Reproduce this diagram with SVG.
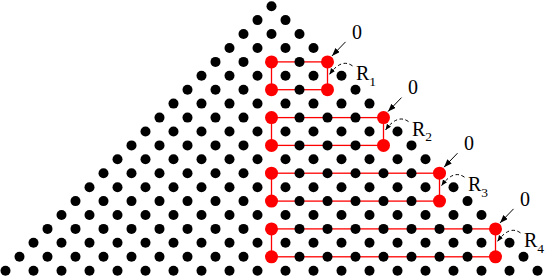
<svg xmlns="http://www.w3.org/2000/svg" width="545" height="279" viewBox="0 0 545 279">
<defs>
<style>
.rb{fill:none;stroke:#ff0000;stroke-width:1.3}
.bd circle{fill:#000}
.rd circle{fill:#ff0000}
.lbl{font-family:"Liberation Serif","Times New Roman",serif;font-size:20px;fill:#000}
.ar{fill:none;stroke:#000;stroke-width:1}
.da{fill:none;stroke:#000;stroke-width:1;stroke-dasharray:3.5 2.5}
</style>
<marker id="ah" markerUnits="userSpaceOnUse" markerWidth="9" markerHeight="7" refX="8" refY="3" orient="auto">
<path d="M0,0 L8,3 L0,6 z" fill="#000"/>
</marker>
<marker id="ahs" markerUnits="userSpaceOnUse" markerWidth="7" markerHeight="6" refX="6" refY="2.5" orient="auto">
<path d="M0,0 L6,2.5 L0,5 z" fill="#000"/>
</marker>
</defs>
<rect width="545" height="279" fill="#fff"/>
<g id="boxes">
<rect class="rb" x="271.5" y="61.9" width="56" height="27.8"/>
<rect class="rb" x="271.5" y="117.6" width="112" height="27.8"/>
<rect class="rb" x="271.5" y="173.2" width="168" height="27.9"/>
<rect class="rb" x="271.5" y="228.9" width="224" height="27.9"/>
</g>
<g id="dots" class="bd">
<circle cx="271.5" cy="6.2" r="5"/>
<circle cx="257.5" cy="20.1" r="5"/><circle cx="285.5" cy="20.1" r="5"/>
<circle cx="243.5" cy="34" r="5"/><circle cx="271.5" cy="34" r="5"/><circle cx="299.5" cy="34" r="5"/>
<circle cx="229.5" cy="48" r="5"/><circle cx="257.5" cy="48" r="5"/><circle cx="285.5" cy="48" r="5"/><circle cx="313.5" cy="48" r="5"/>
<circle cx="215.5" cy="61.9" r="5"/><circle cx="243.5" cy="61.9" r="5"/><circle cx="299.5" cy="61.9" r="5"/>
<circle cx="201.5" cy="75.8" r="5"/><circle cx="229.5" cy="75.8" r="5"/><circle cx="257.5" cy="75.8" r="5"/><circle cx="285.5" cy="75.8" r="5"/><circle cx="313.5" cy="75.8" r="5"/><circle cx="341.5" cy="75.8" r="5"/>
<circle cx="187.5" cy="89.7" r="5"/><circle cx="215.5" cy="89.7" r="5"/><circle cx="243.5" cy="89.7" r="5"/><circle cx="299.5" cy="89.7" r="5"/><circle cx="355.5" cy="89.7" r="5"/>
<circle cx="173.5" cy="103.6" r="5"/><circle cx="201.5" cy="103.6" r="5"/><circle cx="229.5" cy="103.6" r="5"/><circle cx="257.5" cy="103.6" r="5"/><circle cx="285.5" cy="103.6" r="5"/><circle cx="313.5" cy="103.6" r="5"/><circle cx="341.5" cy="103.6" r="5"/><circle cx="369.5" cy="103.6" r="5"/>
<circle cx="159.5" cy="117.6" r="5"/><circle cx="187.5" cy="117.6" r="5"/><circle cx="215.5" cy="117.6" r="5"/><circle cx="243.5" cy="117.6" r="5"/><circle cx="299.5" cy="117.6" r="5"/><circle cx="327.5" cy="117.6" r="5"/><circle cx="355.5" cy="117.6" r="5"/>
<circle cx="145.5" cy="131.5" r="5"/><circle cx="173.5" cy="131.5" r="5"/><circle cx="201.5" cy="131.5" r="5"/><circle cx="229.5" cy="131.5" r="5"/><circle cx="257.5" cy="131.5" r="5"/><circle cx="285.5" cy="131.5" r="5"/><circle cx="313.5" cy="131.5" r="5"/><circle cx="341.5" cy="131.5" r="5"/><circle cx="369.5" cy="131.5" r="5"/><circle cx="397.5" cy="131.5" r="5"/>
<circle cx="131.5" cy="145.4" r="5"/><circle cx="159.5" cy="145.4" r="5"/><circle cx="187.5" cy="145.4" r="5"/><circle cx="215.5" cy="145.4" r="5"/><circle cx="243.5" cy="145.4" r="5"/><circle cx="299.5" cy="145.4" r="5"/><circle cx="327.5" cy="145.4" r="5"/><circle cx="355.5" cy="145.4" r="5"/><circle cx="411.5" cy="145.4" r="5"/>
<circle cx="117.5" cy="159.3" r="5"/><circle cx="145.5" cy="159.3" r="5"/><circle cx="173.5" cy="159.3" r="5"/><circle cx="201.5" cy="159.3" r="5"/><circle cx="229.5" cy="159.3" r="5"/><circle cx="257.5" cy="159.3" r="5"/><circle cx="285.5" cy="159.3" r="5"/><circle cx="313.5" cy="159.3" r="5"/><circle cx="341.5" cy="159.3" r="5"/><circle cx="369.5" cy="159.3" r="5"/><circle cx="397.5" cy="159.3" r="5"/><circle cx="425.5" cy="159.3" r="5"/>
<circle cx="103.5" cy="173.2" r="5"/><circle cx="131.5" cy="173.2" r="5"/><circle cx="159.5" cy="173.2" r="5"/><circle cx="187.5" cy="173.2" r="5"/><circle cx="215.5" cy="173.2" r="5"/><circle cx="243.5" cy="173.2" r="5"/><circle cx="299.5" cy="173.2" r="5"/><circle cx="327.5" cy="173.2" r="5"/><circle cx="355.5" cy="173.2" r="5"/><circle cx="383.5" cy="173.2" r="5"/><circle cx="411.5" cy="173.2" r="5"/>
<circle cx="89.5" cy="187.2" r="5"/><circle cx="117.5" cy="187.2" r="5"/><circle cx="145.5" cy="187.2" r="5"/><circle cx="173.5" cy="187.2" r="5"/><circle cx="201.5" cy="187.2" r="5"/><circle cx="229.5" cy="187.2" r="5"/><circle cx="257.5" cy="187.2" r="5"/><circle cx="285.5" cy="187.2" r="5"/><circle cx="313.5" cy="187.2" r="5"/><circle cx="341.5" cy="187.2" r="5"/><circle cx="369.5" cy="187.2" r="5"/><circle cx="397.5" cy="187.2" r="5"/><circle cx="425.5" cy="187.2" r="5"/><circle cx="453.5" cy="187.2" r="5"/>
<circle cx="75.5" cy="201.1" r="5"/><circle cx="103.5" cy="201.1" r="5"/><circle cx="131.5" cy="201.1" r="5"/><circle cx="159.5" cy="201.1" r="5"/><circle cx="187.5" cy="201.1" r="5"/><circle cx="215.5" cy="201.1" r="5"/><circle cx="243.5" cy="201.1" r="5"/><circle cx="299.5" cy="201.1" r="5"/><circle cx="327.5" cy="201.1" r="5"/><circle cx="355.5" cy="201.1" r="5"/><circle cx="383.5" cy="201.1" r="5"/><circle cx="411.5" cy="201.1" r="5"/><circle cx="467.5" cy="201.1" r="5"/>
<circle cx="61.5" cy="215" r="5"/><circle cx="89.5" cy="215" r="5"/><circle cx="117.5" cy="215" r="5"/><circle cx="145.5" cy="215" r="5"/><circle cx="173.5" cy="215" r="5"/><circle cx="201.5" cy="215" r="5"/><circle cx="229.5" cy="215" r="5"/><circle cx="257.5" cy="215" r="5"/><circle cx="285.5" cy="215" r="5"/><circle cx="313.5" cy="215" r="5"/><circle cx="341.5" cy="215" r="5"/><circle cx="369.5" cy="215" r="5"/><circle cx="397.5" cy="215" r="5"/><circle cx="425.5" cy="215" r="5"/><circle cx="453.5" cy="215" r="5"/><circle cx="481.5" cy="215" r="5"/>
<circle cx="47.5" cy="228.9" r="5"/><circle cx="75.5" cy="228.9" r="5"/><circle cx="103.5" cy="228.9" r="5"/><circle cx="131.5" cy="228.9" r="5"/><circle cx="159.5" cy="228.9" r="5"/><circle cx="187.5" cy="228.9" r="5"/><circle cx="215.5" cy="228.9" r="5"/><circle cx="243.5" cy="228.9" r="5"/><circle cx="299.5" cy="228.9" r="5"/><circle cx="327.5" cy="228.9" r="5"/><circle cx="355.5" cy="228.9" r="5"/><circle cx="383.5" cy="228.9" r="5"/><circle cx="411.5" cy="228.9" r="5"/><circle cx="439.5" cy="228.9" r="5"/><circle cx="467.5" cy="228.9" r="5"/>
<circle cx="33.5" cy="242.8" r="5"/><circle cx="61.5" cy="242.8" r="5"/><circle cx="89.5" cy="242.8" r="5"/><circle cx="117.5" cy="242.8" r="5"/><circle cx="145.5" cy="242.8" r="5"/><circle cx="173.5" cy="242.8" r="5"/><circle cx="201.5" cy="242.8" r="5"/><circle cx="229.5" cy="242.8" r="5"/><circle cx="257.5" cy="242.8" r="5"/><circle cx="285.5" cy="242.8" r="5"/><circle cx="313.5" cy="242.8" r="5"/><circle cx="341.5" cy="242.8" r="5"/><circle cx="369.5" cy="242.8" r="5"/><circle cx="397.5" cy="242.8" r="5"/><circle cx="425.5" cy="242.8" r="5"/><circle cx="453.5" cy="242.8" r="5"/><circle cx="481.5" cy="242.8" r="5"/><circle cx="509.5" cy="242.8" r="5"/>
<circle cx="19.5" cy="256.8" r="5"/><circle cx="47.5" cy="256.8" r="5"/><circle cx="75.5" cy="256.8" r="5"/><circle cx="103.5" cy="256.8" r="5"/><circle cx="131.5" cy="256.8" r="5"/><circle cx="159.5" cy="256.8" r="5"/><circle cx="187.5" cy="256.8" r="5"/><circle cx="215.5" cy="256.8" r="5"/><circle cx="243.5" cy="256.8" r="5"/><circle cx="299.5" cy="256.8" r="5"/><circle cx="327.5" cy="256.8" r="5"/><circle cx="355.5" cy="256.8" r="5"/><circle cx="383.5" cy="256.8" r="5"/><circle cx="411.5" cy="256.8" r="5"/><circle cx="439.5" cy="256.8" r="5"/><circle cx="467.5" cy="256.8" r="5"/><circle cx="523.5" cy="256.8" r="5"/>
<circle cx="5.5" cy="270.7" r="5"/><circle cx="33.5" cy="270.7" r="5"/><circle cx="61.5" cy="270.7" r="5"/><circle cx="89.5" cy="270.7" r="5"/><circle cx="117.5" cy="270.7" r="5"/><circle cx="145.5" cy="270.7" r="5"/><circle cx="173.5" cy="270.7" r="5"/><circle cx="201.5" cy="270.7" r="5"/><circle cx="229.5" cy="270.7" r="5"/><circle cx="257.5" cy="270.7" r="5"/><circle cx="285.5" cy="270.7" r="5"/><circle cx="313.5" cy="270.7" r="5"/><circle cx="341.5" cy="270.7" r="5"/><circle cx="369.5" cy="270.7" r="5"/><circle cx="397.5" cy="270.7" r="5"/><circle cx="425.5" cy="270.7" r="5"/><circle cx="453.5" cy="270.7" r="5"/><circle cx="481.5" cy="270.7" r="5"/><circle cx="509.5" cy="270.7" r="5"/><circle cx="537.5" cy="270.7" r="5"/>
</g>
<g id="R1" class="rd">
<circle cx="271.5" cy="61.9" r="6.5"/><circle cx="327.5" cy="61.9" r="6.5"/><circle cx="271.5" cy="89.7" r="6.5"/><circle cx="327.5" cy="89.7" r="6.5"/>
<text class="lbl" x="357" y="38.6" text-anchor="middle">0</text>
<text class="lbl" x="356" y="80">R<tspan font-size="13.5" dy="5.5">1</tspan></text>
</g>
<g id="R2" class="rd">
<circle cx="271.5" cy="117.6" r="6.5"/><circle cx="383.5" cy="117.6" r="6.5"/><circle cx="271.5" cy="145.4" r="6.5"/><circle cx="383.5" cy="145.4" r="6.5"/>
<text class="lbl" x="413" y="94.3" text-anchor="middle">0</text>
<text class="lbl" x="412" y="135.7">R<tspan font-size="13.5" dy="5.5">2</tspan></text>
</g>
<g id="R3" class="rd">
<circle cx="271.5" cy="173.2" r="6.5"/><circle cx="439.5" cy="173.2" r="6.5"/><circle cx="271.5" cy="201.1" r="6.5"/><circle cx="439.5" cy="201.1" r="6.5"/>
<text class="lbl" x="469" y="149.9" text-anchor="middle">0</text>
<text class="lbl" x="468" y="191.3">R<tspan font-size="13.5" dy="5.5">3</tspan></text>
</g>
<g id="R4" class="rd">
<circle cx="271.5" cy="228.9" r="6.5"/><circle cx="495.5" cy="228.9" r="6.5"/><circle cx="271.5" cy="256.8" r="6.5"/><circle cx="495.5" cy="256.8" r="6.5"/>
<text class="lbl" x="525" y="205.6" text-anchor="middle">0</text>
<text class="lbl" x="524" y="247">R<tspan font-size="13.5" dy="5.5">4</tspan></text>
</g>
<g id="connectors">
<path class="ar" d="M345.5,41.9 L332,55.9" marker-end="url(#ah)"/>
<path class="ar" d="M401.5,97.6 L388,111.6" marker-end="url(#ah)"/>
<path class="ar" d="M457.5,153.2 L444,167.2" marker-end="url(#ah)"/>
<path class="ar" d="M513.5,208.9 L500,222.9" marker-end="url(#ah)"/>
<path class="da" d="M352.5,65.9 Q341.5,57.9 329.5,74.4" marker-end="url(#ahs)"/>
<path class="da" d="M408.5,121.6 Q397.5,113.6 385.5,130.1" marker-end="url(#ahs)"/>
<path class="da" d="M464.5,177.2 Q453.5,169.2 441.5,185.7" marker-end="url(#ahs)"/>
<path class="da" d="M520.5,232.9 Q509.5,224.9 497.5,241.4" marker-end="url(#ahs)"/>
</g>
</svg>
